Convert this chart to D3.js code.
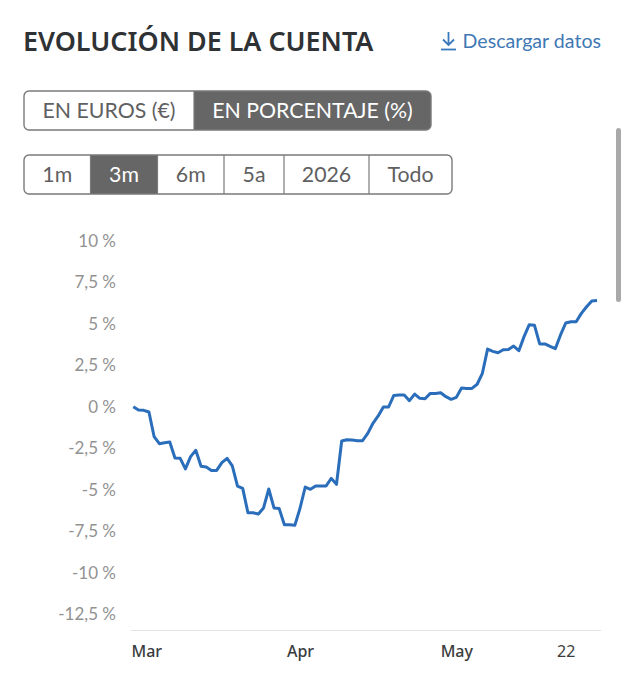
<!DOCTYPE html>
<html>
<head>
<meta charset="utf-8">
<script src="https://cdn.jsdelivr.net/npm/d3@7"></script>
<style>
  body { margin: 0; background: #fff; }
  svg { display: block; font-family: Lato, "Noto Sans", sans-serif; }
  .tick line, .domain { display: none; }
</style>
</head>
<body>
<svg id="chart" width="625" height="680"></svg>
<script>
const startDate = "2026-02-28";
const values = [
  0.02, -0.18, -0.2, -0.3, -1.79, -2.21, -2.15, -2.11, -3.07, -3.09,
  -3.73, -2.99, -2.61, -3.57, -3.61, -3.82, -3.82, -3.35, -3.09, -3.55,
  -4.76, -4.9, -6.37, -6.37, -6.45, -6.08, -4.94, -6.08, -6.12, -7.09,
  -7.09, -7.13, -6.1, -4.82, -4.96, -4.76, -4.76, -4.76, -4.3, -4.66,
  -2.05, -1.97, -1.99, -2.03, -2.03, -1.59, -0.98, -0.54, 0, 0,
  0.7, 0.72, 0.72, 0.38, 0.78, 0.52, 0.5, 0.82, 0.82, 0.86,
  0.62, 0.46, 0.58, 1.14, 1.12, 1.12, 1.37, 2.03, 3.49, 3.35,
  3.27, 3.45, 3.47, 3.67, 3.39, 4.24, 4.96, 4.92, 3.8, 3.8,
  3.65, 3.51, 4.34, 5.06, 5.14, 5.14, 5.64, 6.04, 6.39, 6.41
];
const yTicks = [10, 7.5, 5, 2.5, 0, -2.5, -5, -7.5, -10, -12.5];
const xTickDates = ["2026-03-01", "2026-04-01", "2026-05-01", "2026-05-22"];
const xTickLabels = ["Mar", "Apr", "May", "22"];
const unitLabels = ["EN EUROS (€)", "EN PORCENTAJE (%)"];
const unitSelected = 1;
const rangeLabels = ["1m", "3m", "6m", "5a", "2026", "Todo"];
const rangeSelected = 1;

const svg = d3.select("#chart");
const parse = d3.utcParse("%Y-%m-%d");
const dates = values.map((_, i) => d3.utcDay.offset(parse(startDate), i));
const series = values.map((v, i) => ({ date: dates[i], value: v }));

const x = d3.scaleUtc().domain(d3.extent(dates)).range([133.3, 597]);
const y = d3.scaleLinear().domain([-12.5, 10]).range([614.5, 241]);

// cabecera
svg.append("text")
  .attr("x", 23).attr("y", 51)
  .attr("font-family", "'Noto Sans', sans-serif")
  .attr("font-size", 26.9).attr("font-weight", 600)
  .attr("fill", "#2f3234")
  .text("EVOLUCIÓN DE LA CUENTA");

const icon = svg.append("g")
  .attr("fill", "none").attr("stroke", "#3a78bd").attr("stroke-width", 1.8);
icon.append("path").attr("d", "M448.5 32V45M443 39.5L448.5 45L454 39.5");
icon.append("path").attr("d", "M441 49.5H456");

svg.append("text")
  .attr("x", 601).attr("y", 48)
  .attr("text-anchor", "end")
  .attr("font-size", 19.6)
  .attr("fill", "#3f78b4")
  .text("Descargar datos");

// grupos de botones
function buttonGroup(labels, selected, edges, top, height, fontSize) {
  const g = svg.append("g");
  const left = edges[0], right = edges[edges.length - 1];
  const clipId = "clip" + top;
  g.append("clipPath").attr("id", clipId)
    .append("rect")
    .attr("x", left).attr("y", top)
    .attr("width", right - left).attr("height", height).attr("rx", 5);
  g.selectAll("rect.btn")
    .data(labels)
    .join("rect")
    .attr("class", "btn")
    .attr("clip-path", `url(#${clipId})`)
    .attr("x", (d, i) => edges[i])
    .attr("y", top)
    .attr("width", (d, i) => edges[i + 1] - edges[i])
    .attr("height", height)
    .attr("fill", (d, i) => i === selected ? "#666666" : "#fff");
  g.selectAll("line")
    .data(edges.slice(1, -1))
    .join("line")
    .attr("x1", d => d).attr("x2", d => d)
    .attr("y1", top).attr("y2", top + height)
    .attr("stroke", "#7a7a7a").attr("stroke-width", 1.2);
  g.append("rect")
    .attr("x", left).attr("y", top)
    .attr("width", right - left).attr("height", height).attr("rx", 5)
    .attr("fill", "none").attr("stroke", "#7a7a7a").attr("stroke-width", 1.4);
  g.selectAll("text")
    .data(labels)
    .join("text")
    .attr("x", (d, i) => (edges[i] + edges[i + 1]) / 2)
    .attr("y", top + height / 2 + fontSize * 0.35)
    .attr("text-anchor", "middle")
    .attr("font-size", fontSize)
    .attr("fill", (d, i) => i === selected ? "#fff" : "#5f6061")
    .text(d => d);
}

buttonGroup(unitLabels, unitSelected, [24, 194, 431], 91, 39, 21.3);
buttonGroup(rangeLabels, rangeSelected, [24, 90.5, 157.5, 224, 284, 369, 452], 155, 39, 21.3);

// barra de scroll
svg.append("rect")
  .attr("x", 616).attr("y", 128)
  .attr("width", 5).attr("height", 174).attr("rx", 2.5)
  .attr("fill", "#a9a9a9");

// ejes
const yAxis = d3.axisLeft(y)
  .tickValues(yTicks)
  .tickSize(0)
  .tickPadding(0)
  .tickFormat(d => String(d).replace(".", ",") + " %");

svg.append("g")
  .attr("transform", "translate(116,0)")
  .call(yAxis)
  .call(g => g.selectAll("text")
    .attr("font-size", 17)
    .attr("font-family", "Lato, sans-serif")
    .attr("fill", "#929292"));

svg.append("line")
  .attr("x1", 131).attr("x2", 601)
  .attr("y1", 630.5).attr("y2", 630.5)
  .attr("stroke", "#e3e3e3").attr("stroke-width", 1.2);

const xAxis = d3.axisBottom(x)
  .tickValues(xTickDates.map(parse))
  .tickSize(0)
  .tickPadding(0)
  .tickFormat((d, i) => xTickLabels[i]);

svg.append("g")
  .attr("transform", "translate(0,646)")
  .call(xAxis)
  .call(g => g.selectAll("text")
    .attr("font-size", 16)
    .attr("font-family", "'Noto Sans', sans-serif")
    .attr("font-weight", (d, i) => i < 3 ? 500 : 400)
    .attr("fill", "#3a3c3e"))
  // la primera etiqueta queda pegada al borde izquierdo
  .call(g => g.selectAll("text").filter((d, i) => i === 0)
    .attr("text-anchor", "start")
    .attr("x", 131 - x(parse(xTickDates[0]))));

// linea
const line = d3.line()
  .x(d => x(d.date))
  .y(d => y(d.value));

svg.append("path")
  .datum(series)
  .attr("fill", "none")
  .attr("stroke", "#2a6ebb")
  .attr("stroke-width", 3)
  .attr("stroke-linejoin", "round")
  .attr("d", line);
</script>
</body>
</html>
